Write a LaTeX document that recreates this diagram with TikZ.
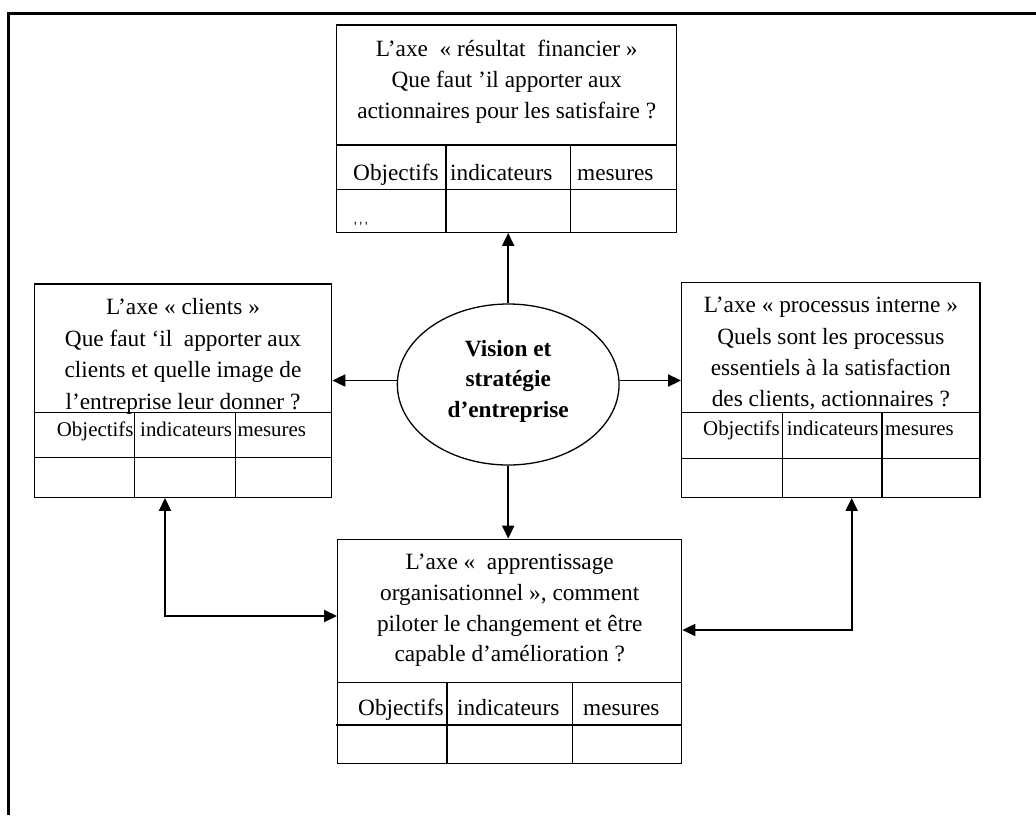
\documentclass[tikz,border=0pt]{standalone}
\usepackage{fontspec}
\setmainfont{Liberation Serif}
\usetikzlibrary{arrows.meta,shapes.geometric}
\tikzset{
  boxnode/.style={draw, rectangle, line width=1.3pt, inner sep=0pt},
  gridline/.style={line width=1.3pt},
  hdr/.style={align=center, inner sep=0pt, anchor=north},
  celltxt/.style={anchor=base west, inner sep=0pt, font=\fontsize{23.3}{28}\selectfont},
  smallcell/.style={anchor=base west, inner sep=0pt, font=\fontsize{20.9}{25}\selectfont},
  arr/.style={line width=1.9pt, -{Triangle[length=13pt,width=12pt]}},
  arrboth/.style={line width=1.9pt, {Triangle[length=13pt,width=12pt]}-{Triangle[length=13pt,width=12pt]}},
}
\begin{document}
\begin{tikzpicture}[x=1pt,y=-1pt]
\useasboundingbox (0,0) rectangle (1036,815);
% page frame (top and left only)
\draw[line width=3pt] (8.7,815) -- (8.7,13.5) -- (1036,13.5);

% ---------- top box ----------
\node[boxnode, minimum width=340pt, minimum height=207.3pt] (top) at (506.7,128.65) {};
\draw[gridline] (336.7,145) -- (676.7,145);
\draw[gridline] (336.7,189.3) -- (676.7,189.3);
\draw[gridline] (446,145) -- (446,232.3);
\draw[gridline] (570.7,145) -- (570.7,232.3);
\node[hdr, font=\fontsize{23.3}{30.8}\selectfont] (topH) at (506.7,36.7)
  {\rule{0pt}{20pt}L’axe\ \ « résultat\ \ financier »\\Que faut ’il apporter aux\\actionnaires pour les satisfaire ?};
\node[celltxt] (tO) at (353,180) {Objectifs};
\node[celltxt] (tI) at (450,180) {indicateurs};
\node[celltxt] (tM) at (577,180) {mesures};
\node[anchor=base west, inner sep=0pt, font=\fontsize{14}{14}\selectfont] (tDots) at (354,231.5)
  {\textquotesingle\kern3pt\textquotesingle\kern3pt\textquotesingle};

% ---------- left box ----------
\node[boxnode, minimum width=297.4pt, minimum height=213.3pt] (left) at (183,390.65) {};
\draw[gridline] (34.3,412.7) -- (331.7,412.7);
\draw[gridline] (34.3,457.3) -- (331.7,457.3);
\draw[gridline] (134.3,412.7) -- (134.3,497.3);
\draw[gridline] (235.3,412.7) -- (235.3,497.3);
\node[hdr, font=\fontsize{23.3}{31.7}\selectfont] (leftH) at (183,294.3)
  {\rule{0pt}{20pt}L’axe « clients »\\Que faut ‘il\ \ apporter aux\\clients et quelle image de\\l’entreprise leur donner ?};
\node[smallcell] (lO) at (56.7,436.7) {Objectifs};
\node[smallcell] (lI) at (140,436.7) {indicateurs};
\node[smallcell] (lM) at (237.3,436.7) {mesures};

% ---------- right box ----------
\node[boxnode, minimum width=298.3pt, minimum height=214.6pt] (right) at (830.85,390) {};
\draw[gridline] (681.7,412.7) -- (980,412.7);
\draw[gridline] (681.7,458.3) -- (980,458.3);
\draw[gridline] (782.7,412.7) -- (782.7,497.3);
\draw[gridline] (882,412.7) -- (882,497.3);
\node[hdr, font=\fontsize{23.3}{31.3}\selectfont] (rightH) at (830.85,292.7)
  {\rule{0pt}{20pt}L’axe « processus interne »\\Quels sont les processus\\essentiels à la satisfaction\\des clients, actionnaires ?};
\node[smallcell] (rO) at (703,435.7) {Objectifs};
\node[smallcell] (rI) at (786.7,435.7) {indicateurs};
\node[smallcell] (rM) at (885,435.7) {mesures};

% ---------- bottom box ----------
\node[boxnode, minimum width=344pt, minimum height=224pt] (bot) at (509.7,651.3) {};
\draw[gridline] (337.7,682.7) -- (681.7,682.7);
\draw[gridline] (336,725) -- (681.7,725);
\draw[gridline] (447,682.7) -- (447,763.3);
\draw[gridline] (572.3,682.7) -- (572.3,763.3);
\node[hdr, font=\fontsize{23.3}{30.8}\selectfont] (botH) at (509.7,549.3)
  {\rule{0pt}{20pt}L’axe «\ \ apprentissage\\organisationnel », comment\\piloter le changement et être\\capable d’amélioration ?};
\node[celltxt] (bO) at (358,715) {Objectifs};
\node[celltxt] (bI) at (457,715) {indicateurs};
\node[celltxt] (bM) at (583,715) {mesures};

% ---------- centre ellipse ----------
\node[draw, ellipse, line width=1.3pt, minimum width=221.7pt, minimum height=161pt, inner sep=0pt] (E) at (508.2,384.5) {};
\node[hdr, font=\fontsize{23.3}{30.4}\selectfont\bfseries] (ET) at (508.2,336)
  {\rule{0pt}{20pt}Vision et\\stratégie\\d’entreprise};

% ---------- connectors ----------
\coordinate (eL) at ([yshift=4pt]E.west);
\coordinate (eR) at ([yshift=4pt]E.east);
\draw[arr] (E.north) -- (E.north |- top.south);
\draw[arr] (eL) -- (eL -| left.east);
\draw[arr] (eR) -- (eR -| right.west);
\draw[arr] (E.south) -- (E.south |- bot.north);
\coordinate (lc) at (165,616);
\coordinate (rc) at (851.7,630);
\draw[arrboth] (left.south -| lc) -- (lc) -- (lc -| bot.west);
\draw[arrboth] (right.south -| rc) -- (rc) -- (rc -| bot.east);
\end{tikzpicture}
\end{document}
